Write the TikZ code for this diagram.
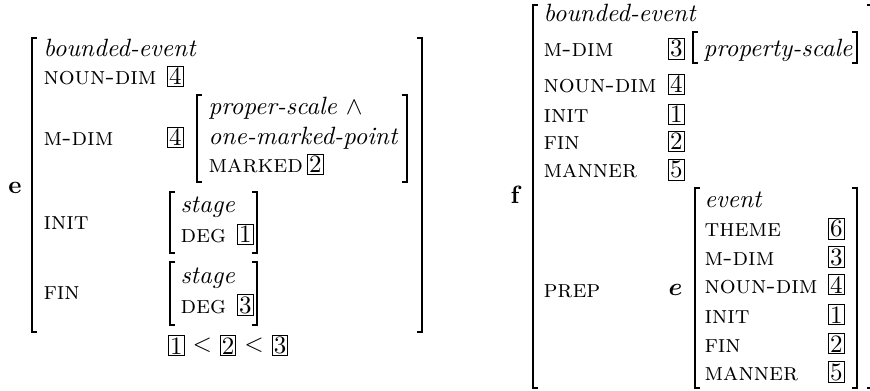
\documentclass[tikz,border=0pt]{standalone}
\usepackage{amsmath}
\usepackage{tikz}
\usetikzlibrary{positioning}
\tikzset{
  feat/.style={anchor=base west, inner sep=0pt, font=\scshape},
  typ/.style={anchor=base west, inner sep=0pt, font=\itshape},
  tagbox/.style={draw, line width=0.4pt, inner sep=0.6pt, anchor=base west},
  lbl/.style={anchor=base west, inner sep=0pt, font=\bfseries},
  brk/.style={line width=0.9pt},
  outerbrk/.style={line width=1.1pt}
}
\newcommand\lbrk[4][brk]{\draw[#1] ({#2+5},#3) -- (#2,#3) -- (#2,#4) -- ({#2+5},#4);}
\newcommand\rbrk[4][brk]{\draw[#1] ({#2-5},#3) -- (#2,#3) -- (#2,#4) -- ({#2-5},#4);}

\begin{document}
\begin{tikzpicture}[x=0.4pt,y=-0.4pt]
  \useasboundingbox (0,0) rectangle (870,391);

  % left structure e
  \node[lbl] (eLabel) at (8,194) {e};
  \lbrk[outerbrk]{32}{38}{332}
  \rbrk[outerbrk]{422}{38}{332}
  \node[typ] (eType) at (43,57) {bounded-event};
  \node[feat] (eNoun) at (43,85) {noun-dim};
  \node[tagbox] (eNounTag) at (167,85) {4};
  \node[feat] (eMdim) at (43,146) {m-dim};
  \node[tagbox] (eMdimTag) at (167,146) {4};
  \lbrk{197}{95}{182}
  \rbrk{407}{95}{182}
  \node[typ] (eScale) at (208,115) {proper-scale $\wedge$};
  \node[typ] (ePoint) at (208,145) {one-marked-point};
  \node[feat] (eMarked) at (208,173) {marked};
  \node[tagbox] (eMarkedTag) at (307,173) {2};
  \node[feat] (eInit) at (43,230) {init};
  \lbrk{170}{192}{253}
  \rbrk{257}{192}{253}
  \node[typ] (eInitStage) at (180,213) {stage};
  \node[feat] (eInitDeg) at (180,243) {deg};
  \node[tagbox] (eInitTag) at (237,243) {1};
  \node[feat] (eFin) at (43,300) {fin};
  \lbrk{170}{262}{325}
  \rbrk{257}{262}{325}
  \node[typ] (eFinStage) at (180,283) {stage};
  \node[feat] (eFinDeg) at (180,313) {deg};
  \node[tagbox] (eFinTag) at (237,313) {3};

  % ordering of the degrees
  \node[tagbox] (ord1) at (168,354) {1};
  \node[inner sep=0pt, right=3pt of ord1] (lt1) {$<$};
  \node[tagbox, anchor=west, right=3pt of lt1] (ord2) {2};
  \node[inner sep=0pt, right=3pt of ord2] (lt2) {$<$};
  \node[tagbox, anchor=west, right=3pt of lt2] (ord3) {3};

  % right structure f
  \node[lbl] (fLabel) at (510,204) {f};
  \lbrk[outerbrk]{533}{5}{388}
  \rbrk[outerbrk]{872}{5}{388}
  \node[typ] (fType) at (543,22) {bounded-event};
  \node[feat] (fMdim) at (543,57) {m-dim};
  \node[tagbox] (fMdimTag) at (668,57) {3};
  \lbrk{693}{32}{63}
  \rbrk{857}{32}{63}
  \node[typ] (fScale) at (703,57) {property-scale};
  \node[feat] (fNoun) at (543,93) {noun-dim};
  \node[tagbox] (fNounTag) at (668,93) {4};
  \node[feat] (fInit) at (543,123) {init};
  \node[tagbox] (fInitTag) at (668,123) {1};
  \node[feat] (fFin) at (543,150) {fin};
  \node[tagbox] (fFinTag) at (668,150) {2};
  \node[feat] (fManner) at (543,178) {manner};
  \node[tagbox] (fMannerTag) at (668,178) {5};
  \node[feat] (fPrep) at (543,297) {prep};
  \node[anchor=base west, inner sep=0pt] (pLabel) at (668,295) {$\boldsymbol{e}$};
  \lbrk{695}{188}{388}
  \rbrk{857}{188}{388}
  \node[typ] (pType) at (704,208) {event};
  \foreach \name/\feature/\y/\num in {Theme/theme/237/6, Mdim/m-dim/265/3, Noun/noun-dim/293/4,
      Init/init/323/1, Fin/fin/352/2, Manner/manner/380/5} {
    \node[feat] (p\name) at (704,\y) {\feature};
    \node[tagbox] (p\name Tag) at (828,\y) {\num};
  }
\end{tikzpicture}
\end{document}
